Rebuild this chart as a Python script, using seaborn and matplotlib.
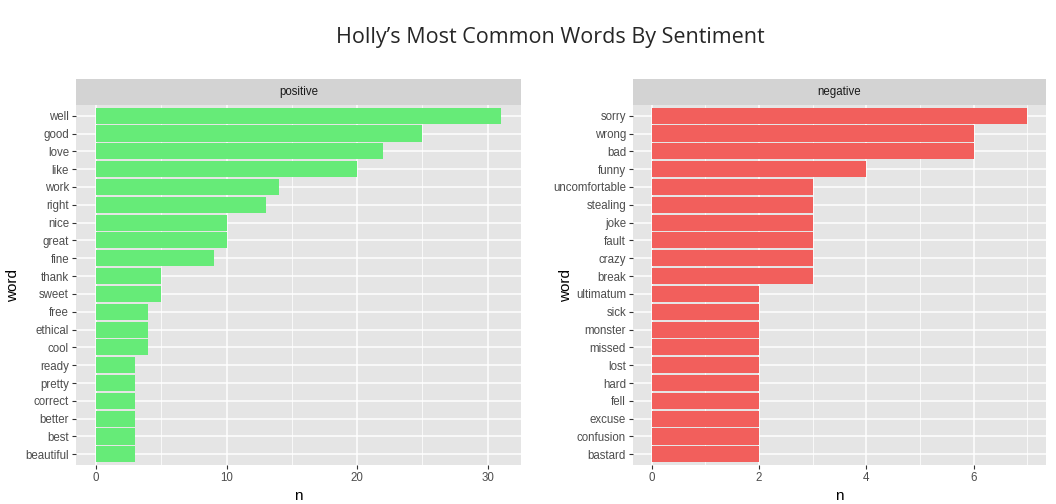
import pandas as pd
import numpy as np

import matplotlib.pyplot as plt
import seaborn as sns
from matplotlib.ticker import MultipleLocator

# positive words, top to bottom
pos_words = ["well", "good", "love", "like", "work", "right", "nice", "great", "fine",
             "thank", "sweet", "free", "ethical", "cool", "ready", "pretty", "correct",
             "better", "best", "beautiful"]
pos_n = [31, 25, 22, 20, 14, 13, 10, 10, 9, 5, 5, 4, 4, 4, 3, 3, 3, 3, 3, 3]

# negative words, top to bottom
neg_words = ["sorry", "wrong", "bad", "funny", "uncomfortable", "stealing", "joke",
             "fault", "crazy", "break", "ultimatum", "sick", "monster", "missed", "lost",
             "hard", "fell", "excuse", "confusion", "bastard"]
neg_n = [7, 6, 6, 4, 3, 3, 3, 3, 3, 3, 2, 2, 2, 2, 2, 2, 2, 2, 2, 2]

pos_df = pd.DataFrame({"word": pos_words, "n": pos_n})
neg_df = pd.DataFrame({"word": neg_words, "n": neg_n})

sns.set_theme(style="darkgrid")
plt.rcParams["font.family"] = ["Liberation Sans", "DejaVu Sans"]

fig = plt.figure(figsize=(10.56, 5.04), dpi=100)

W, H = 1056, 504


def panel(df, x0, x1, label, color, xmax, major, minor):
    # pixel box -> figure fractions
    top, bottom = 105, 465
    ax = fig.add_axes([x0 / W, 1 - bottom / H, (x1 - x0) / W, (bottom - top) / H])
    sns.barplot(
        data=df,
        x="n",
        y="word",
        order=list(df["word"]),
        color=color,
        saturation=1,
        width=0.9,
        linewidth=0,
        ax=ax
    )
    ax.set_facecolor("#E5E5E5")
    for s in ax.spines.values():
        s.set_visible(False)
    ax.set_axisbelow(True)
    ax.xaxis.set_major_locator(MultipleLocator(major))
    ax.xaxis.set_minor_locator(MultipleLocator(minor))
    ax.grid(which="major", color="white", linewidth=1.1)
    ax.grid(which="minor", axis="x", color="white", linewidth=0.55)
    ax.set_xlim(-0.05 * xmax, xmax * 1.05)
    ax.set_ylim(len(df) - 0.4, -0.6)
    ax.tick_params(axis="both", which="major", length=3, width=0.8, color="#333333",
                   labelsize=8.3, labelcolor="#4D4D4D", pad=2, bottom=True, left=True)
    ax.tick_params(axis="x", which="minor", length=0)
    ax.set_xlabel("n", fontsize=11, color="black", labelpad=4)
    ax.set_ylabel("word", fontsize=11, color="black")

    # facet strip
    sax = fig.add_axes([x0 / W, 1 - top / H, (x1 - x0) / W, 26 / H])
    sax.set_facecolor("#D3D3D3")
    sax.set_xticks([])
    sax.set_yticks([])
    for s in sax.spines.values():
        s.set_visible(False)
    sax.text(0.5, 0.5, label, ha="center", va="center", fontsize=8.3, color="#1A1A1A",
             transform=sax.transAxes)
    return ax


ax1 = panel(pos_df, 76, 521, "positive", "#66EB78", 31, 10, 5)
ax2 = panel(neg_df, 633, 1046, "negative", "#F25F5C", 7, 2, 1)
ax1.yaxis.set_label_coords(-0.126, 0.5)
ax2.yaxis.set_label_coords(-0.145, 0.5)

fig.text(0.521, 0.925, "Holly\u2019s Most Common Words By Sentiment", ha="center",
         va="center", fontsize=15.5, family=["Open Sans", "DejaVu Sans"])

fig.savefig("out.png", dpi=100)
